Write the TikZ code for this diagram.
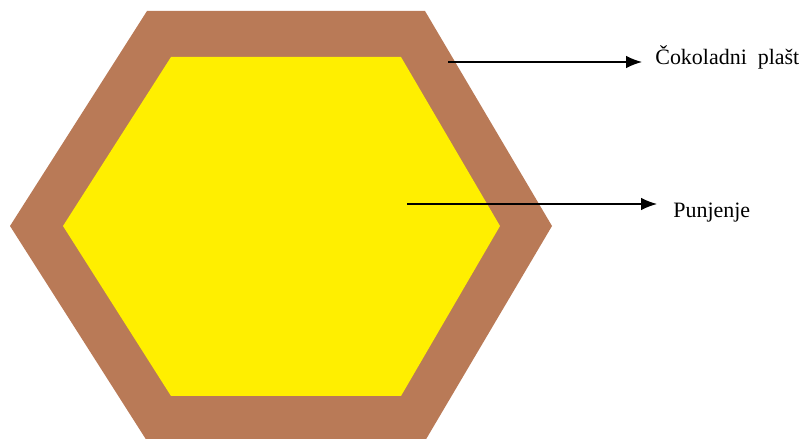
\documentclass[tikz,border=0pt]{standalone}
\usepackage{fontspec}
\setmainfont{Liberation Serif}
\usetikzlibrary{arrows.meta, calc}

\definecolor{chocolate}{RGB}{185,122,87}
\definecolor{filling}{RGB}{255,239,0}

\begin{document}
\begin{tikzpicture}[x=0.02cm, y=-0.02cm, every node/.style={font=\fontsize{12.5}{14}\selectfont}]

    % === Frame (pixel grid of the drawing) ===
    \useasboundingbox (0,0) rectangle (806,439);

    % === Outer hexagon: chocolate shell ===
    \fill[chocolate] (147,11) -- (425,11) -- (552,226) -- (425,441)
    -- (147,441) -- (10,226) -- cycle;

    % === Inner hexagon: filling ===
    \fill[filling] (171,57) -- (401,57) -- (500,226) -- (401,396)
    -- (171,396) -- (63,226) -- cycle;

    % === Labels ===
    \node[anchor=base west, inner sep=0pt] (shell) at (655,65) {Čokoladni\hspace{0.22cm}plašt};
    \node[anchor=base west, inner sep=0pt] (fill) at (673,218) {Punjenje};

    % === Pointers ===
    \coordinate (shellpt) at (448,62);
    \coordinate (fillpt) at (407,204);
    \draw[line width=0.7pt, -{Latex[length=9pt, width=7pt]}]
    (shellpt) -- ($(shellpt -| shell.west) + (-13,0)$);
    \draw[line width=0.7pt, -{Latex[length=9pt, width=7pt]}]
    (fillpt) -- ($(fillpt -| fill.west) + (-16,0)$);

\end{tikzpicture}
\end{document}
